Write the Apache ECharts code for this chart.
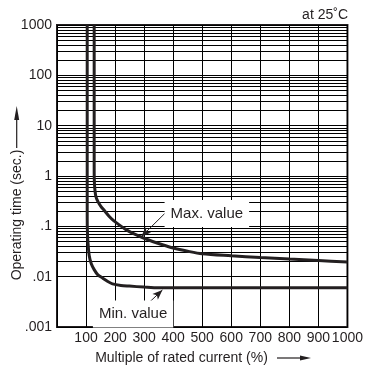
<!DOCTYPE html>
<html>
<head>
<meta charset="utf-8">
<script src="https://cdn.jsdelivr.net/npm/echarts@6/dist/echarts.min.js"></script>
<style>
  html, body { margin: 0; padding: 0; background: #fff; }
  #chart { width: 366px; height: 370px; }
</style>
</head>
<body>
<div id="chart"></div>
<script>
    // curve points: [current %, time s]
    const maxCurve = [
        [128, 1000], [128, 1.2], [129, 0.7], [131, 0.5], [134, 0.39], [141, 0.31],
        [151, 0.25], [165, 0.2], [180, 0.157], [195, 0.13], [214, 0.107], [235, 0.088],
        [260, 0.073], [306, 0.056], [363, 0.043], [400, 0.037], [450, 0.032], [500, 0.0285],
        [600, 0.026], [700, 0.024], [800, 0.0224], [900, 0.021], [1000, 0.0195]
    ];
    const minCurve = [
        [104, 1000], [104, 0.15], [105, 0.07], [107, 0.045], [111, 0.026], [118, 0.018],
        [128, 0.0138], [140, 0.011], [157, 0.0094], [175, 0.008], [191, 0.0072],
        [220, 0.0067], [249, 0.0065], [300, 0.0062], [350, 0.006], [1000, 0.006]
    ];
    const xTickLabels = ['', '100', '200', '300', '400', '500', '600', '700', '800', '900', '1000'];
    const yTickLabels = ['.001', '.01', '.1', '1', '10', '100', '1000'];
    const minorSteps = [2, 3, 4, 5, 6, 7, 8, 9];
    const decades = [0.001, 0.01, 0.1, 1, 10, 100];

    // annotations in data coordinates
    const maxLabel = { text: 'Max. value', at: [516, 0.18] };
    const maxLeader = [[371, 0.18], [290, 0.062]];
    const minLabel = { text: 'Min. value', at: [262, 0.00181] };
    const minLeader = [[308, 0.00274], [363, 0.00543]];

    const ink = '#231f20';

    let minorLines = [];
    decades.forEach(d => {
        minorSteps.forEach(s => {
            minorLines.push({ yAxis: +(d * s).toPrecision(3) });
        });
    });

    let chart = echarts.init(document.getElementById('chart'));
    chart.setOption({
        animation: false,
        textStyle: { fontFamily: 'Liberation Sans, Arial, sans-serif' },
        grid: {
            left: 57, right: 18, top: 25, bottom: 43,
            show: true, borderColor: ink, borderWidth: 2, backgroundColor: 'transparent'
        },
        xAxis: {
            type: 'value', min: 0, max: 1000, interval: 100,
            axisLine: { show: false },
            axisTick: { show: false },
            axisLabel: {
                color: ink, fontSize: 14, margin: 4,
                formatter: v => xTickLabels[Math.round(v / 100)]
            },
            splitLine: { show: true, lineStyle: { color: '#000', width: 1 } }
        },
        yAxis: {
            type: 'log', logBase: 10, min: 0.001, max: 1000, splitNumber: 6,
            axisLine: { show: false },
            axisTick: { show: false },
            axisLabel: {
                color: ink, fontSize: 14, margin: 5,
                formatter: v => yTickLabels[Math.round(Math.log10(v)) + 3]
            },
            splitLine: { show: true, lineStyle: { color: '#000', width: 1 } }
        },
        series: [
            {
                name: 'grid', type: 'line', data: [], silent: true,
                markLine: {
                    silent: true, symbol: ['none', 'none'], z: 1,
                    label: { show: false },
                    lineStyle: { color: '#000', width: 1, type: 'solid' },
                    data: minorLines
                }
            },
            {
                name: 'Max. value', type: 'line', data: maxCurve, z: 10,
                showSymbol: false, smooth: 0.3,
                lineStyle: { color: ink, width: 3 }
            },
            {
                name: 'Min. value', type: 'line', data: minCurve, z: 10,
                showSymbol: false, smooth: 0.3,
                lineStyle: { color: ink, width: 3 }
            },
            {
                name: 'notes', type: 'line', data: [], silent: true,
                markLine: {
                    silent: true, z: 20, symbol: ['none', 'arrow'], symbolSize: [6, 10],
                    label: { show: false },
                    lineStyle: { color: ink, width: 1, type: 'solid' },
                    data: [
                        [{ coord: maxLeader[0] }, { coord: maxLeader[1] }],
                        [{ coord: minLeader[0] }, { coord: minLeader[1] }]
                    ]
                },
                markPoint: {
                    silent: true, z: 20, symbolSize: 0,
                    label: {
                        show: true, position: 'inside', color: ink, fontSize: 15,
                        backgroundColor: '#fff', padding: [6, 6],
                        formatter: p => p.name
                    },
                    data: [
                        { name: maxLabel.text, coord: maxLabel.at },
                        { name: minLabel.text, coord: minLabel.at }
                    ]
                }
            }
        ],
        graphic: [
            { type: 'text', right: 18, top: 8, style: { text: 'at 25˚C', fontSize: 14, fill: ink, font: '14px Liberation Sans' } },
            { type: 'text', x: 181.5, y: 358, style: { text: 'Multiple of rated current (%)', fill: ink, font: '14px Liberation Sans', align: 'center', verticalAlign: 'middle' } },
            { type: 'line', shape: { x1: 277, y1: 358, x2: 302, y2: 358 }, style: { stroke: ink, lineWidth: 1.2 } },
            { type: 'polygon', shape: { points: [[311, 358], [300, 355.5], [300, 360.5]] }, style: { fill: ink } },
            { type: 'text', x: 16.7, y: 215, rotation: Math.PI / 2, style: { text: 'Operating time (sec.)', fill: ink, font: '14px Liberation Sans', align: 'center', verticalAlign: 'middle' } },
            { type: 'line', shape: { x1: 16.7, y1: 148, x2: 16.7, y2: 118 }, style: { stroke: ink, lineWidth: 1.2 } },
            { type: 'polygon', shape: { points: [[16.7, 106], [14.2, 120], [19.2, 120]] }, style: { fill: ink } }
        ]
    });
</script>
</body>
</html>
